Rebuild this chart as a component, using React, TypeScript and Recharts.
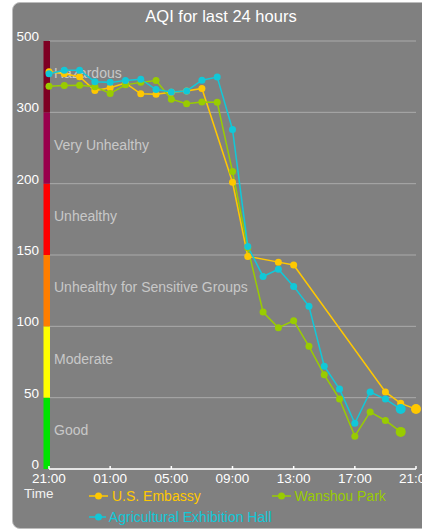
import React from "react";
import {
  LineChart,
  Line,
  XAxis,
  YAxis,
  CartesianGrid,
  ReferenceArea,
  Legend,
} from "recharts";

// hourly readings, 21:00 yesterday -> 21:00 today
const hours = [
  "21:00", "22:00", "23:00", "00:00", "01:00", "02:00", "03:00", "04:00",
  "05:00", "06:00", "07:00", "08:00", "09:00", "10:00", "11:00", "12:00",
  "13:00", "14:00", "15:00", "16:00", "17:00", "18:00", "19:00", "20:00",
  "21:00",
];

const usEmbassy = [
  414, 408, 400, 361, 369, 382, 352, 351, 356, 360, 367, null, 202, 149, null,
  145, 143, null, null, null, null, null, 54, 46, 42,
];
const wanshouPark = [
  373, 375, 376, 372, 353, 377, 384, 389, 337, 324, 329, 328, 217, 155, 110,
  99, 104, 86, 66, 49, 23, 40, 34, 26, null,
];
const agriHall = [
  408, 418, 418, 386, 384, 389, 393, 364, 357, 360, 390, 399, 276, 156, 135,
  140, 128, 114, 72, 56, 32, 54, 49, 42, null,
];

const aqiTicks = [0, 50, 100, 150, 200, 300, 500];
const bandNames = [
  "Good",
  "Moderate",
  "Unhealthy for Sensitive Groups",
  "Unhealthy",
  "Very Unhealthy",
  "Hazardous",
];
const bandColors = ["#00e400", "#ffff00", "#ff7e00", "#ff0000", "#99004c", "#7e0023"];

const seriesNames = ["U.S. Embassy", "Wanshou Park", "Agricultural Exhibition Hall"];
const seriesColors = ["#ffc800", "#99cc00", "#11c8d8"];

// AQI breakpoints are evenly spaced on the axis, so map a value onto band units
const toPos = (v: number | null) => {
  if (v == null) return null;
  for (let i = 0; i < aqiTicks.length - 1; i++) {
    if (v <= aqiTicks[i + 1]) {
      return i + (v - aqiTicks[i]) / (aqiTicks[i + 1] - aqiTicks[i]);
    }
  }
  return aqiTicks.length - 1;
};

const rows = hours.map((time, i) => ({
  time,
  s0: toPos(usEmbassy[i]),
  s1: toPos(wanshouPark[i]),
  s2: toPos(agriHall[i]),
}));

const lastIndex = (arr: (number | null)[]) => {
  for (let i = arr.length - 1; i >= 0; i--) if (arr[i] != null) return i;
  return -1;
};

const makeDot = (color: string, last: number) => (p: any) => {
  const { cx, cy, index } = p;
  if (cx == null || cy == null || p.value == null)
    return <g key={`d-${index}`} />;
  return (
    <circle
      key={`d-${index}`}
      cx={cx}
      cy={cy}
      r={index === last ? 5 : 3.5}
      fill={color}
    />
  );
};

const XTick = ({ x, y, payload }: any) => (
  <g>
    <line x1={x} x2={x} y1={y} y2={y - 3} stroke="#fff" strokeWidth={1.5} />
    <text x={x} y={y + 14} textAnchor="middle" fill="#fff" fontSize={13.5}>
      {payload.value}
    </text>
  </g>
);

const YTick = ({ x, y, payload }: any) => (
  <text x={x - 10} y={y} textAnchor="end" fill="#fff" fontSize={13.5}>
    {aqiTicks[payload.value]}
  </text>
);

const bandShape = (i: number) => (p: any) => (
  <g>
    <rect x={p.x - 5.5} y={p.y} width={6.5} height={p.height} fill={bandColors[i]} />
    <text x={p.x + 5} y={p.y + p.height / 2 + 1.5} fill="#c8c8c8" fontSize={14}>
      {bandNames[i]}
    </text>
  </g>
);

const LegendBox = ({ payload }: any) => {
  const items = [...(payload || [])].sort(
    (a: any, b: any) => seriesNames.indexOf(a.value) - seriesNames.indexOf(b.value)
  );
  return (
    <div style={{ position: "relative", width: 416, height: 46 }}>
      <div
        style={{
          position: "absolute",
          left: 11,
          top: 0,
          lineHeight: "21px",
          fontSize: 13.5,
          color: "#f2f2f2",
        }}
      >
        Time
      </div>
      <div
        style={{
          position: "absolute",
          left: 76,
          top: 2,
          display: "grid",
          gridTemplateColumns: "182.5px 182.5px",
        }}
      >
        {items.map((item: any) => (
          <div
            key={item.value}
            style={{
              display: "flex",
              alignItems: "center",
              height: 21,
              whiteSpace: "nowrap",
              fontSize: 14,
              color: item.color,
            }}
          >
            <svg width={20} height={10} style={{ marginRight: 3 }}>
              <line x1={0} x2={19} y1={5} y2={5} stroke={item.color} strokeWidth={1.5} />
              <circle cx={9.5} cy={5} r={3.5} fill={item.color} />
            </svg>
            {item.value}
          </div>
        ))}
      </div>
    </div>
  );
};

export default function App() {
  const series = [usEmbassy, wanshouPark, agriHall];
  return (
    <div
      style={{
        position: "absolute",
        left: 0,
        top: 0,
        width: 422,
        height: 532,
        overflow: "hidden",
        background: "#fff",
        fontFamily: "'Liberation Sans', Arial, Helvetica, sans-serif",
      }}
    >
      <div
        style={{
          position: "absolute",
          left: 12,
          top: 2,
          width: 418,
          height: 527,
          boxSizing: "border-box",
          border: "1px solid #bdbdbd",
          borderRadius: 8,
          background: "#808080",
        }}
      >
        <div
          style={{
            position: "absolute",
            left: 0,
            top: 0,
            width: 416,
            textAlign: "center",
            color: "#fff",
            fontSize: 16.5,
            lineHeight: "26px",
          }}
        >
          AQI for last 24 hours
        </div>
        <LineChart
          width={416}
          height={525}
          data={rows}
          margin={{ top: 38, right: 13, left: 0, bottom: 39 }}
        >
          <CartesianGrid vertical={false} stroke="#aaaaaa" strokeWidth={1} />
          {bandNames.map((name, i) => (
            <ReferenceArea key={name} y1={i} y2={i + 1} shape={bandShape(i)} />
          ))}
          <XAxis
            dataKey="time"
            interval={3}
            height={20}
            tickSize={0}
            tickMargin={0}
            tick={<XTick />}
            axisLine={{ stroke: "#fff", strokeWidth: 1.5 }}
          />
          <YAxis
            type="number"
            domain={[0, 6]}
            ticks={[0, 1, 2, 3, 4, 5, 6]}
            width={36}
            tickSize={0}
            tickMargin={0}
            tick={<YTick />}
            axisLine={false}
            tickLine={false}
          />
          <Legend
            layout="horizontal"
            verticalAlign="middle"
            align="center"
            wrapperStyle={{ left: 0, top: 480, width: 416, height: 46 }}
            content={<LegendBox />}
          />
          {series.map((s, i) => (
            <Line
              key={seriesNames[i]}
              type="linear"
              dataKey={`s${i}`}
              name={seriesNames[i]}
              stroke={seriesColors[i]}
              strokeWidth={1.5}
              dot={makeDot(seriesColors[i], lastIndex(s))}
              activeDot={false}
              connectNulls
              isAnimationActive={false}
            />
          ))}
        </LineChart>
      </div>
    </div>
  );
}
